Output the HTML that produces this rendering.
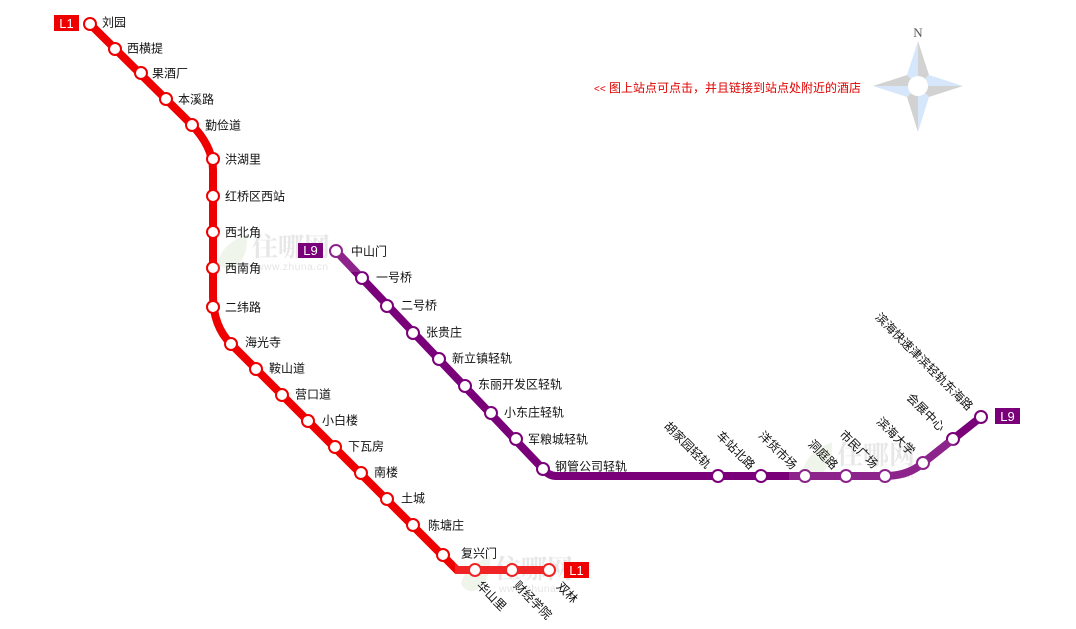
<!DOCTYPE html>
<html lang="zh">
<head>
<meta charset="utf-8">
<title>天津地铁线路图</title>
<style>
html,body{margin:0;padding:0;background:#fff;width:1076px;height:629px;overflow:hidden}
svg{display:block}
.lbl{font-family:"Liberation Sans","WenQuanYi Zen Hei","Noto Sans CJK SC",sans-serif;font-size:12px;fill:#111}
.badge-text{font-family:"Liberation Sans",sans-serif;font-size:13px;fill:#fff}
.notice{font-family:"Liberation Sans","WenQuanYi Zen Hei","Noto Sans CJK SC",sans-serif;font-size:12px;fill:#e00000}
.wm-cn{font-family:"Liberation Serif","Noto Serif CJK SC",serif;font-size:26px;font-weight:700;fill:#e4e4e4}
.wm-en{font-family:"Liberation Sans",sans-serif;font-size:10.5px;fill:#e2e2e2;letter-spacing:.4px}
</style>
</head>
<body>
<svg id="map" xmlns="http://www.w3.org/2000/svg" width="1076" height="629" viewBox="0 0 1076 629">
  <g id="watermarks"></g>
  <g id="lines">
    <path d="M90 24L190 123Q213 146 213 170L213 296Q213 326 231 344L457 570L549 570" fill="none" stroke="#ee0000" stroke-width="8"/>
    <path d="M336 251L543 469Q549 476 556 476L885 476Q908 476 923 463L981 417" fill="none" stroke="#7a007a" stroke-width="8"/>
  </g>
  <g id="stations"></g>
  <g id="veils"></g>
  <g id="labels"></g>

  <g>
    <rect x="54" y="15" width="25" height="16" fill="#ee0000"/>
    <text class="badge-text" x="66.5" y="28" text-anchor="middle">L1</text>
    <rect x="298" y="243" width="25" height="15" fill="#7a007a"/>
    <text class="badge-text" x="310.5" y="255" text-anchor="middle">L9</text>
    <rect x="995" y="408" width="25" height="16" fill="#7a007a"/>
    <text class="badge-text" x="1007.5" y="421" text-anchor="middle">L9</text>
    <rect x="564" y="562" width="25" height="16" fill="#ee0000"/>
    <text class="badge-text" x="576.5" y="575" text-anchor="middle">L1</text>
  </g>

  <text class="notice" x="594" y="92" style="font-size:10px">&lt;&lt;</text>
  <text class="notice" x="609" y="92">图上站点可点击，并且链接到站点处附近的酒店</text>

  <g>
    <text x="918" y="37" text-anchor="middle" font-family="Liberation Serif, serif" font-size="13" fill="#555">N</text>
    <polygon points="918,41 918,86 907,75" fill="#d6e6fb"/>
    <polygon points="918,41 918,86 929,75" fill="#d2d2d2"/>
    <polygon points="963,86 918,86 929,75" fill="#d6e6fb"/>
    <polygon points="963,86 918,86 929,97" fill="#d2d2d2"/>
    <polygon points="918,132 918,86 929,97" fill="#d6e6fb"/>
    <polygon points="918,132 918,86 907,97" fill="#d2d2d2"/>
    <polygon points="873,86 918,86 907,97" fill="#d6e6fb"/>
    <polygon points="873,86 918,86 907,75" fill="#d2d2d2"/>
    <circle cx="918" cy="86" r="10" fill="#fff"/>
  </g>
</svg>
<script>
var NS = 'http://www.w3.org/2000/svg';

/* L1 stations */
var l1Names = ['刘园','西横提','果酒厂','本溪路','勤俭道','洪湖里','红桥区西站','西北角','西南角','二纬路','海光寺','鞍山道','营口道','小白楼','下瓦房','南楼','土城','陈塘庄','复兴门','华山里','财经学院','双林'];
var l1X = [90,115,141,166,192,213,213,213,213,213,231,256,282,308,335,361,387,413,443,475,512,549];
var l1Y = [24,49,73,99,125,159,196,232,268,307,344,369,395,421,447,473,499,525,555,570,570,570];
var l1LabelX = [102,127,152,178,205,225,225,225,225,225,245,269,295,322,348,374,401,428,461,479,516,559];
var l1LabelY = [22,48,73,99,125,159,196,232,268,307,342,368,394,420,446,472,498,525,553,583,583,584];
var l1LabelAngle = [0,0,0,0,0,0,0,0,0,0,0,0,0,0,0,0,0,0,0,45,45,45];
var l1LabelAnchor = ['start','start','start','start','start','start','start','start','start','start','start','start','start','start','start','start','start','start','start','start','start','start'];

/* L9 stations */
var l9Names = ['中山门','一号桥','二号桥','张贵庄','新立镇轻轨','东丽开发区轻轨','小东庄轻轨','军粮城轻轨','钢管公司轻轨','胡家园轻轨','车站北路','洋货市场','洞庭路','市民广场','滨海大学','会展中心','滨海快速津滨轻轨东海路'];
var l9X = [336,362,387,413,439,465,491,516,543,718,761,805,846,885,923,953,981];
var l9Y = [251,278,306,333,359,386,413,439,469,476,476,476,476,476,463,439,417];
var l9LabelX = [351,376,401,426,452,478,504,528,555,709,753,795,836,876,913,943,971];
var l9LabelY = [251,277,305,332,358,384,412,439,466,466,467,467,467,466,453,429,408];
var l9LabelAngle = [0,0,0,0,0,0,0,0,0,45,45,45,45,45,45,45,45];
var l9LabelAnchor = ['start','start','start','start','start','start','start','start','start','end','end','end','end','end','end','end','end'];

var stationLayer = document.getElementById('stations');
var labelLayer = document.getElementById('labels');

function drawLine(names, xs, ys, lx, ly, angles, anchors, color, prefix) {
  for (var i = 0; i < names.length; i++) {
    var c = document.createElementNS(NS, 'circle');
    c.setAttribute('cx', xs[i]);
    c.setAttribute('cy', ys[i]);
    c.setAttribute('r', 6);
    c.setAttribute('fill', '#fff');
    c.setAttribute('stroke', color);
    c.setAttribute('stroke-width', 2);
    
    
    stationLayer.appendChild(c);

    var t = document.createElementNS(NS, 'text');
    t.setAttribute('class', 'lbl');
    t.setAttribute('x', lx[i]);
    t.setAttribute('y', ly[i] + 4.5);
    t.setAttribute('text-anchor', anchors[i]);
    if (angles[i]) {
      t.setAttribute('transform', 'rotate(' + angles[i] + ' ' + lx[i] + ' ' + ly[i] + ')');
    }
    
    
    t.textContent = names[i];
    labelLayer.appendChild(t);
  }
}
drawLine(l1Names, l1X, l1Y, l1LabelX, l1LabelY, l1LabelAngle, l1LabelAnchor, '#ee0000', 'l1');
drawLine(l9Names, l9X, l9Y, l9LabelX, l9LabelY, l9LabelAngle, l9LabelAnchor, '#7a007a', 'l9');

/* Site watermarks: artwork sits under the lines, a pale veil lightens the lines above it */
var wmOffsetX = [0,585,243];
var wmOffsetY = [0,208,322];
var veilLeft = [217,789,455];
var veilRight = [372,955,560];
var veilTop = [232,440,550];
var veilBottom = [272,490,595];
var wmLayer = document.getElementById('watermarks');
var veilLayer = document.getElementById('veils');

function makeWatermark(dx, dy, left, right, top, bottom) {
  var g = document.createElementNS(NS, 'g');
  g.setAttribute('transform', 'translate(' + dx + ' ' + dy + ')');
  
  

  var leafA = document.createElementNS(NS, 'path');
  leafA.setAttribute('d', 'M218 262Q222 244 247 234Q249 258 233 268Q224 272 218 262Z');
  leafA.setAttribute('fill', '#eef4e8');
  
  
  g.appendChild(leafA);

  var cn = document.createElementNS(NS, 'text');
  cn.setAttribute('class', 'wm-cn');
  cn.setAttribute('x', 252);
  cn.setAttribute('y', 256);
  
  
  cn.textContent = '住哪网';
  g.appendChild(cn);

  var en = document.createElementNS(NS, 'text');
  en.setAttribute('class', 'wm-en');
  en.setAttribute('x', 256);
  en.setAttribute('y', 270);
  
  
  en.textContent = 'www.zhuna.cn';
  g.appendChild(en);

  wmLayer.appendChild(g);

  var veil = document.createElementNS(NS, 'rect');
  veil.setAttribute('x', left);
  veil.setAttribute('y', top);
  veil.setAttribute('width', right - left);
  veil.setAttribute('height', bottom - top);
  veil.setAttribute('fill', '#fff');
  veil.setAttribute('opacity', '0.14');
  
  
  veilLayer.appendChild(veil);
}
for (var w = 0; w < wmOffsetX.length; w++) {
  makeWatermark(wmOffsetX[w], wmOffsetY[w], veilLeft[w], veilRight[w], veilTop[w], veilBottom[w]);
}
</script>
</body>
</html>
